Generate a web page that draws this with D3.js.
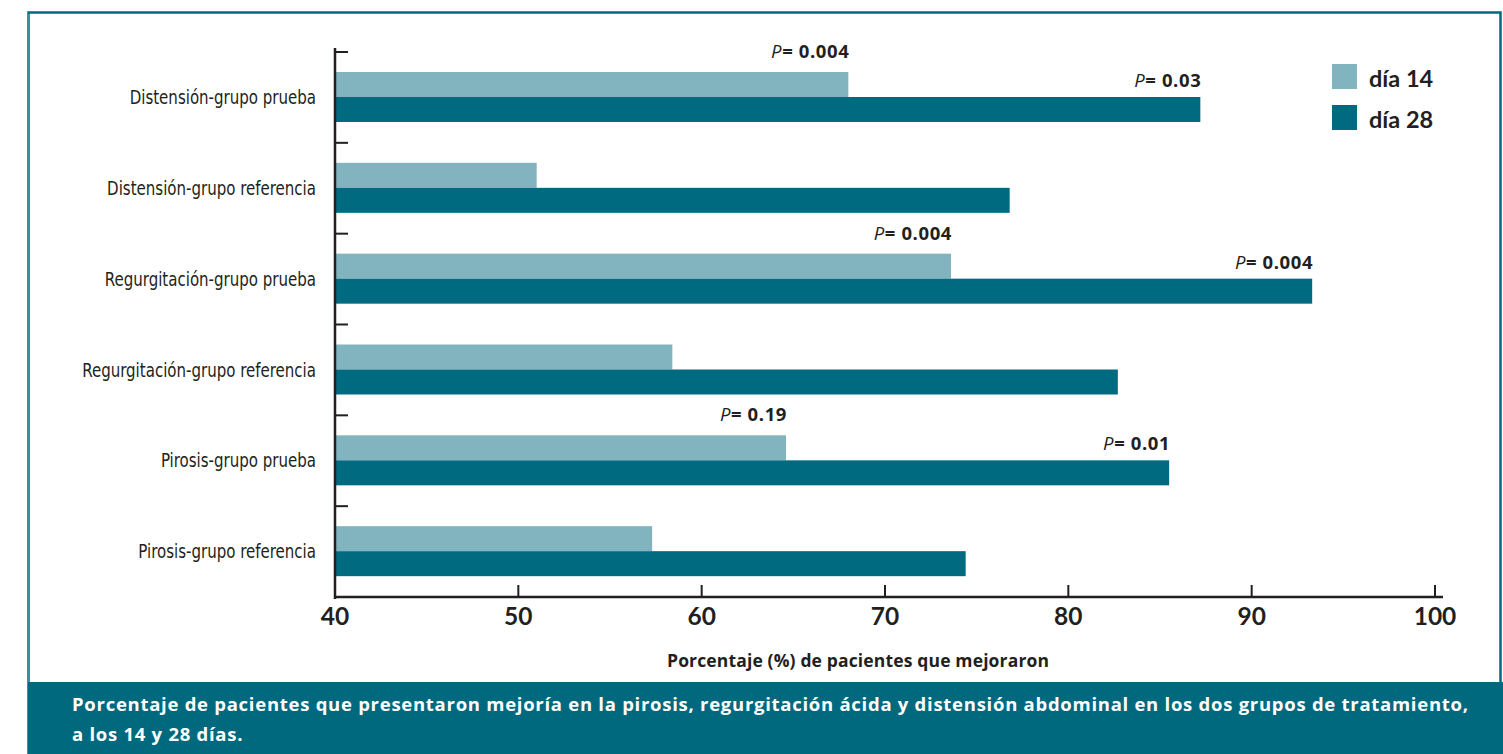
<!DOCTYPE html>
<html>
<head>
<meta charset="utf-8">
<script src="https://cdn.jsdelivr.net/npm/d3@7"></script>
<style>
  html, body { margin: 0; padding: 0; background: #fff; }
  svg { display: block; }
  .num { font-family: Lato, "Open Sans", sans-serif; font-weight: 700; fill: #231f20; }
  .wide { font-family: "Open Sans", Lato, sans-serif; font-weight: 700; fill: #231f20; }
  .cat { font-family: "Liberation Sans Narrow", "DejaVu Sans Condensed", sans-serif; fill: #231f20; }
</style>
</head>
<body>
<svg id="chart" width="1503" height="754"></svg>
<script>
// Categories, top to bottom
const categories = [
  "Distensión-grupo prueba",
  "Distensión-grupo referencia",
  "Regurgitación-grupo prueba",
  "Regurgitación-grupo referencia",
  "Pirosis-grupo prueba",
  "Pirosis-grupo referencia"
];
// Percentage of patients improved
const day14 = [68.0, 51.0, 73.6, 58.4, 64.6, 57.3];
const day28 = [87.2, 76.8, 93.3, 82.7, 85.5, 74.4];
// P values shown over the test-group bars (null = none)
const pDay14 = ["0.004", null, "0.004", null, "0.19", null];
const pDay28 = ["0.03", null, "0.004", null, "0.01", null];
const seriesNames = ["día 14", "día 28"];
const xTicks = [40, 50, 60, 70, 80, 90, 100];
const xTitle = "Porcentaje (%) de pacientes que mejoraron";
const captionLines = [
  "Porcentaje de pacientes que presentaron mejoría en la pirosis, regurgitación ácida y distensión abdominal en los dos grupos de tratamiento,",
  "a los 14 y 28 días."
];

const colors = { light: "#82b4bf", dark: "#006a80", ink: "#231f20" };

const svg = d3.select("#chart");

// Spread a text element's letters so it spans the given width
function fitWidth(node, target) {
  const n = node.getNumberOfChars();
  const w = node.getComputedTextLength();
  if (n > 1) d3.select(node).attr("letter-spacing", (target - w) / (n - 1));
}

// Outer frame and caption band
svg.append("rect")
  .attr("x", 28.5).attr("y", 12.5).attr("width", 1472).attr("height", 745)
  .attr("fill", "none").attr("stroke", colors.dark).attr("stroke-width", 2.5);
svg.append("line")
  .attr("x1", 28.5).attr("x2", 28.5).attr("y1", 14).attr("y2", 682)
  .attr("stroke", "#3a8fa6").attr("stroke-width", 2.5);
svg.append("rect")
  .attr("x", 28).attr("y", 682).attr("width", 1475).attr("height", 72)
  .attr("fill", "#00697e");

const x = d3.scaleLinear().domain([40, 100]).range([335, 1435]);
const y = d3.scaleBand().domain(categories).range([52, 597]).paddingInner(0).paddingOuter(0);

const barH = 25;
const offTop = 20;

const rows = categories.map((c, i) => ({ c, d14: day14[i], d28: day28[i], p14: pDay14[i], p28: pDay28[i] }));

const g = svg.append("g");

// Bars
g.selectAll("rect.d14").data(rows).join("rect")
  .attr("class", "d14")
  .attr("x", x(40)).attr("y", d => y(d.c) + offTop)
  .attr("width", d => x(d.d14) - x(40)).attr("height", barH)
  .attr("fill", colors.light);
g.selectAll("rect.d28").data(rows).join("rect")
  .attr("class", "d28")
  .attr("x", x(40)).attr("y", d => y(d.c) + offTop + barH)
  .attr("width", d => x(d.d28) - x(40)).attr("height", barH)
  .attr("fill", colors.dark);

// P-value annotations
function pLabel(sel, key, val, dyTop) {
  const t = sel.selectAll("text." + key).data(rows.filter(d => d[key])).join("text")
    .attr("class", key + " wide")
    .attr("x", d => x(d[val]) + 1)
    .attr("y", dyTop)
    .attr("text-anchor", "end")
    .attr("font-size", 18.5)
    .attr("letter-spacing", 0.6);
  t.append("tspan").attr("font-style", "italic").attr("font-weight", 400).text("P");
  t.append("tspan").text(d => "= " + d[key]);
}
pLabel(g, "p14", "d14", d => y(d.c) + offTop - 14);
pLabel(g, "p28", "d28", d => y(d.c) + offTop + barH - 10);

// Y axis
const axisW = 2.5;
g.append("line")
  .attr("x1", 335).attr("x2", 335).attr("y1", 48).attr("y2", 599)
  .attr("stroke", colors.ink).attr("stroke-width", axisW);
g.selectAll("line.ytick").data(categories).join("line")
  .attr("class", "ytick")
  .attr("x1", 335).attr("x2", 348)
  .attr("y1", d => y(d)).attr("y2", d => y(d))
  .attr("stroke", colors.ink).attr("stroke-width", 2);
// category names, horizontally condensed
g.selectAll("text.cat").data(categories).join("text")
  .attr("class", "cat")
  .attr("transform", d => `translate(316,${y(d) + y.bandwidth() / 2}) scale(0.88,1)`)
  .attr("text-anchor", "end")
  .attr("dy", "0.35em")
  .attr("font-size", 19)
  .text(d => d);

// X axis
g.append("line")
  .attr("x1", 334).attr("x2", 1443).attr("y1", 597).attr("y2", 597)
  .attr("stroke", colors.ink).attr("stroke-width", axisW);
g.selectAll("line.xtick").data(xTicks.slice(1)).join("line")
  .attr("class", "xtick")
  .attr("x1", d => x(d)).attr("x2", d => x(d))
  .attr("y1", 597).attr("y2", 585)
  .attr("stroke", colors.ink).attr("stroke-width", 2);
g.selectAll("text.xlab").data(xTicks).join("text")
  .attr("class", "xlab num")
  .attr("x", d => x(d)).attr("y", 625)
  .attr("text-anchor", "middle")
  .attr("font-size", 24.5)
  .text(d => d);

const title = g.append("text")
  .attr("class", "wide")
  .attr("x", 667).attr("y", 667)
  .attr("font-size", 17.5)
  .text(xTitle);
fitWidth(title.node(), 382);

// Legend
const legend = svg.append("g");
[colors.light, colors.dark].forEach((c, i) => {
  legend.append("rect")
    .attr("x", 1332).attr("y", 64 + i * 41).attr("width", 25).attr("height", 25)
    .attr("fill", c);
  legend.append("text")
    .attr("class", "num")
    .attr("x", 1369).attr("y", 87 + i * 41)
    .attr("font-size", 23.5)
    .text(seriesNames[i]);
});

// Caption
const cap = svg.selectAll("text.cap").data(captionLines).join("text")
  .attr("class", "cap")
  .attr("x", 72).attr("y", (d, i) => 711 + i * 30)
  .attr("font-family", "'Open Sans', sans-serif")
  .attr("font-weight", 700)
  .attr("font-size", 18.5)
  .attr("fill", "#ffffff")
  .text(d => d);
const capNodes = cap.nodes();
fitWidth(capNodes[0], 1396);
capNodes[1].setAttribute("letter-spacing", capNodes[0].getAttribute("letter-spacing"));
</script>
</body>
</html>
